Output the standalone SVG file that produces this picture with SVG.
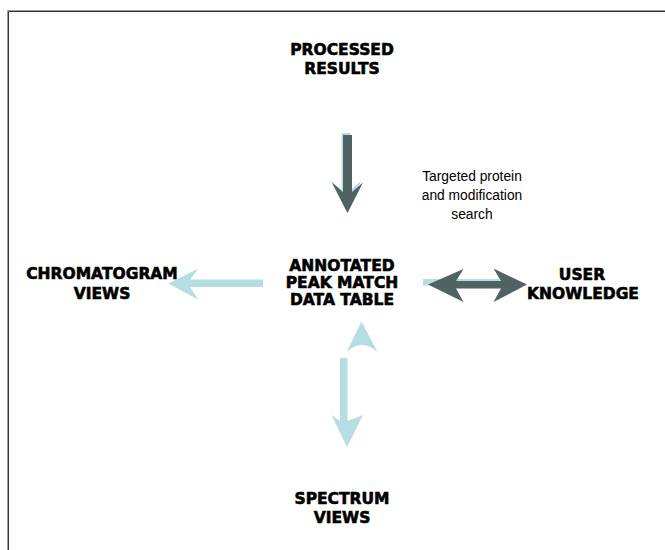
<svg xmlns="http://www.w3.org/2000/svg" width="665" height="550" viewBox="0 0 665 550">
<style>
.lbl{font-family:"DejaVu Sans",Verdana,sans-serif;font-weight:bold;font-size:15.5px;fill:#000;stroke:#000;stroke-width:0.6;text-anchor:middle}
.note{font-family:"Liberation Sans",Arial,sans-serif;font-size:13.8px;fill:#000;text-anchor:middle}
.lb{fill:#b5dee2}
.dk{fill:#506262}
</style>
<rect width="665" height="550" fill="#fff"/>
<g id="frame" fill="none">
<path d="M7.5 550 V10.5 H665" stroke="#9a9a9a" stroke-width="1"/>
<path d="M8.5 550 V11.5 H665" stroke="#333" stroke-width="1"/>
</g>
<g id="connectors">
<path class="lb" d="M341.5 133 L350.5 133 L350.5 190 L361.5 180.5 L346 211 L330.5 180.5 L341.5 190 Z"/>
<path class="dk" d="M343 135 L352 135 L352 192 L363 182.5 L347.5 213 L332 182.5 L343 192 Z"/>
<path class="lb" d="M263 279.5 L190 279.5 L198.5 268.5 L168.5 283.5 L198.5 300 L190 287 L263 287 Z"/>
<rect class="lb" x="423" y="279" width="77" height="6.5"/>
<path class="dk" d="M428 284.5 L463.5 269 L456 281 L501 281 L493.5 268.5 L527 284.5 L493.5 302 L501 288.5 L456 288.5 L463.5 302 Z"/>
<path class="lb" d="M361.5 321.5 L377.5 352 Q362 338 346.5 352 Z"/>
<path class="lb" d="M340 358 L347.5 358 L347.5 421 L363 415 L347 447 L331.5 415 L340 421 Z"/>
</g>
<g id="processed">
<text class="lbl" x="342" y="55">PROCESSED</text>
<text class="lbl" x="342" y="74">RESULTS</text>
</g>
<g id="note">
<text class="note" x="472" y="181">Targeted protein</text>
<text class="note" x="472" y="200">and modification</text>
<text class="note" x="472" y="219">search</text>
</g>
<g id="table">
<text class="lbl" x="342" y="271">ANNOTATED</text>
<text class="lbl" x="342" y="288">PEAK MATCH</text>
<text class="lbl" x="342" y="305">DATA TABLE</text>
</g>
<g id="chromatogram">
<text class="lbl" x="102" y="279">CHROMATOGRAM</text>
<text class="lbl" x="102" y="299">VIEWS</text>
</g>
<g id="user">
<text class="lbl" x="582" y="280">USER</text>
<text class="lbl" x="583" y="299">KNOWLEDGE</text>
</g>
<g id="spectrum">
<text class="lbl" x="342" y="504">SPECTRUM</text>
<text class="lbl" x="342" y="523">VIEWS</text>
</g>
</svg>
